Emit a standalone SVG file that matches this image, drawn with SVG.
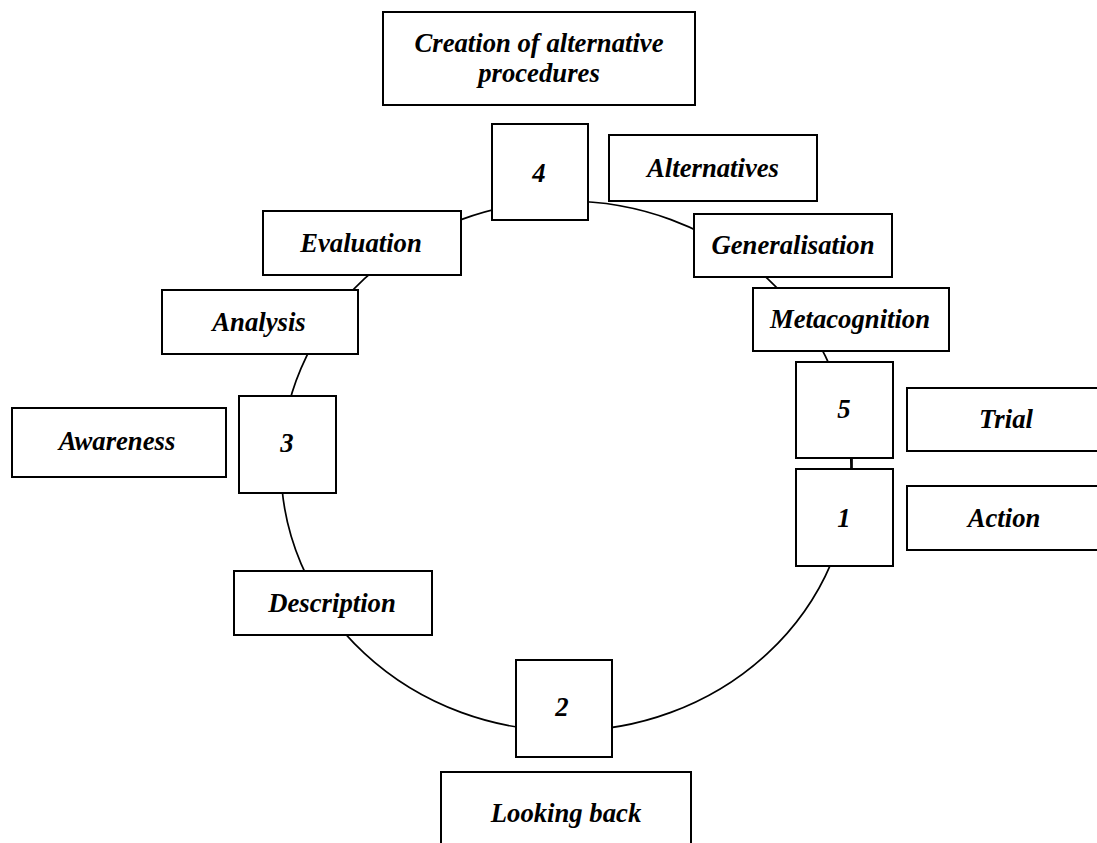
<svg xmlns="http://www.w3.org/2000/svg" width="1097" height="843" viewBox="0 0 1097 843">
  <style>
    .box { fill: #ffffff; stroke: #000000; stroke-width: 2; }
    .ring { fill: none; stroke: #000000; stroke-width: 1.7; }
    .lbl { font-family: "Liberation Serif", "Times New Roman", serif; font-weight: bold; font-style: italic; font-size: 26.7px; fill: #000000; text-anchor: middle; }
  </style>
  <rect width="1097" height="843" fill="#ffffff"/>

  <!-- the cycle path and the short link between steps 5 and 1 -->
  <g id="connectors">
    <ellipse class="ring" cx="566" cy="466" rx="285" ry="265"/>
    <line class="ring" x1="852" y1="458" x2="852" y2="469"/>
  </g>

  <g id="node-creation">
    <rect class="box" x="383" y="12" width="312" height="93"/>
    <text class="lbl" x="539" y="52">Creation of alternative</text>
    <text class="lbl" x="539" y="82">procedures</text>
  </g>

  <g id="node-4">
    <rect class="box" x="492" y="124" width="96" height="96"/>
    <text class="lbl" x="539" y="182">4</text>
  </g>

  <g id="node-alternatives">
    <rect class="box" x="609" y="135" width="208" height="66"/>
    <text class="lbl" x="713" y="177">Alternatives</text>
  </g>

  <g id="node-generalisation">
    <rect class="box" x="694" y="214" width="198" height="63"/>
    <text class="lbl" x="793" y="254">Generalisation</text>
  </g>

  <g id="node-metacognition">
    <rect class="box" x="753" y="288" width="196" height="63"/>
    <text class="lbl" x="850" y="328">Metacognition</text>
  </g>

  <g id="node-5">
    <rect class="box" x="796" y="362" width="97" height="96"/>
    <text class="lbl" x="844" y="418">5</text>
  </g>

  <g id="node-trial">
    <rect class="box" x="907" y="388" width="200" height="63"/>
    <text class="lbl" x="1006" y="428">Trial</text>
  </g>

  <g id="node-1">
    <rect class="box" x="796" y="469" width="97" height="97"/>
    <text class="lbl" x="844" y="527">1</text>
  </g>

  <g id="node-action">
    <rect class="box" x="907" y="486" width="200" height="64"/>
    <text class="lbl" x="1004" y="527">Action</text>
  </g>

  <g id="node-evaluation">
    <rect class="box" x="263" y="211" width="198" height="64"/>
    <text class="lbl" x="361" y="252">Evaluation</text>
  </g>

  <g id="node-analysis">
    <rect class="box" x="162" y="290" width="196" height="64"/>
    <text class="lbl" x="259" y="331">Analysis</text>
  </g>

  <g id="node-awareness">
    <rect class="box" x="12" y="408" width="214" height="69"/>
    <text class="lbl" x="117" y="450">Awareness</text>
  </g>

  <g id="node-3">
    <rect class="box" x="239" y="396" width="97" height="97"/>
    <text class="lbl" x="287" y="452">3</text>
  </g>

  <g id="node-description">
    <rect class="box" x="234" y="571" width="198" height="64"/>
    <text class="lbl" x="332" y="612">Description</text>
  </g>

  <g id="node-2">
    <rect class="box" x="516" y="660" width="96" height="97"/>
    <text class="lbl" x="562" y="716">2</text>
  </g>

  <g id="node-looking-back">
    <rect class="box" x="441" y="772" width="250" height="90"/>
    <text class="lbl" x="566" y="822">Looking back</text>
  </g>
</svg>
